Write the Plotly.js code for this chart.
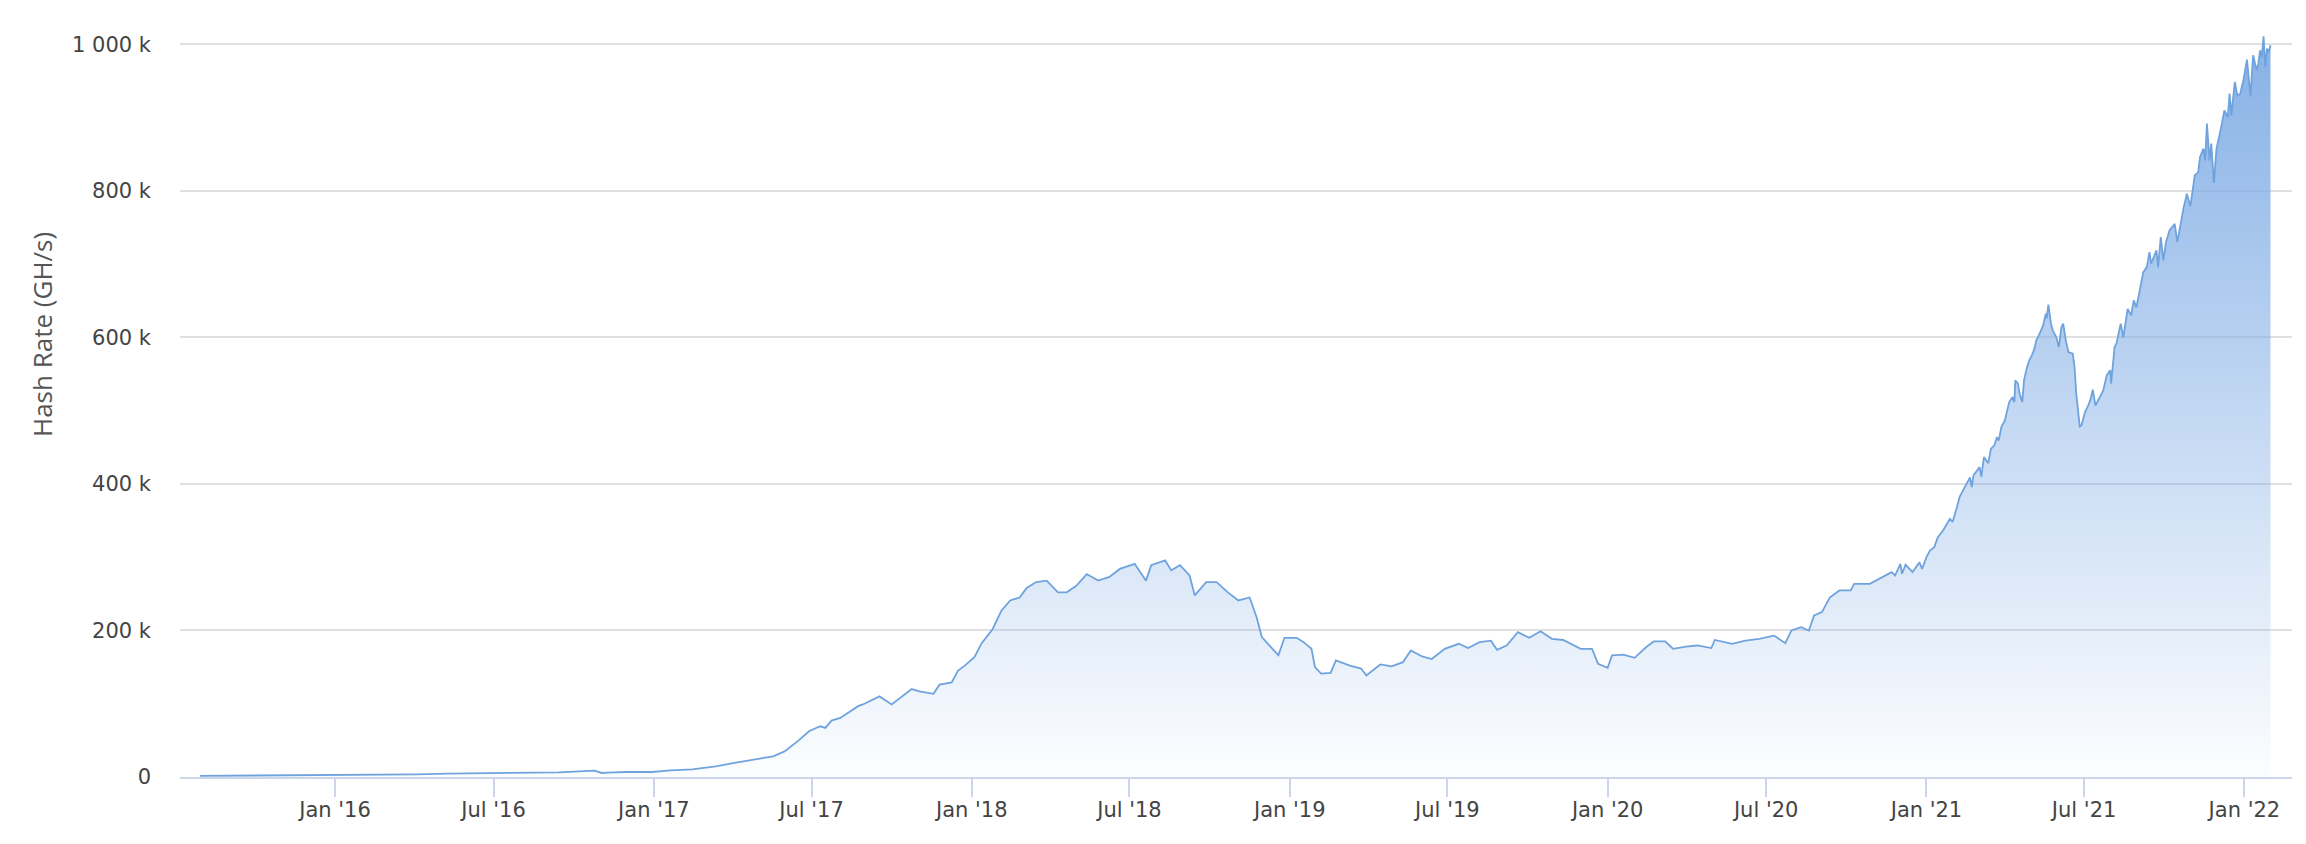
<!DOCTYPE html>
<html>
<head>
<meta charset="utf-8">
<script src="https://cdn.plot.ly/plotly-3.0.1.min.js"></script>
<style>
  html, body { margin: 0; padding: 0; background: #ffffff; }
  #chart { width: 2306px; height: 844px; }
</style>
</head>
<body>
<div id="chart"></div>
<script>
// Dates of readings
const dates = [
  "2015-07-30","2015-11-02","2016-01-02","2016-02-22","2016-04-03","2016-05-09","2016-06-29","2016-08-09",
  "2016-09-14","2016-10-25","2016-11-02","2016-11-09","2016-12-01","2016-12-30","2017-01-20","2017-02-14",
  "2017-03-13","2017-04-02","2017-04-28","2017-05-18","2017-05-31","2017-06-16","2017-06-28","2017-07-11",
  "2017-07-17","2017-07-24","2017-08-03","2017-08-14","2017-08-24","2017-08-29","2017-09-03","2017-09-17",
  "2017-10-01","2017-10-14","2017-10-24","2017-11-02","2017-11-18","2017-11-25","2017-12-09","2017-12-16",
  "2017-12-24","2018-01-04","2018-01-12","2018-01-25","2018-02-04","2018-02-14","2018-02-25","2018-03-05",
  "2018-03-16","2018-03-28","2018-04-10","2018-04-20","2018-05-01","2018-05-13","2018-05-26","2018-06-08",
  "2018-06-20","2018-07-07","2018-07-20","2018-07-26","2018-08-11","2018-08-18","2018-08-28","2018-09-08",
  "2018-09-14","2018-09-27","2018-10-09","2018-10-22","2018-11-03","2018-11-16","2018-11-24","2018-11-30",
  "2018-12-11","2018-12-19","2018-12-26","2019-01-09","2019-01-17","2019-01-26","2019-01-30","2019-02-06",
  "2019-02-17","2019-02-23","2019-03-11","2019-03-24","2019-03-30","2019-04-15","2019-04-28","2019-05-11",
  "2019-05-20","2019-06-02","2019-06-13","2019-06-28","2019-07-14","2019-07-25","2019-08-07","2019-08-20",
  "2019-08-27","2019-09-07","2019-09-20","2019-10-03","2019-10-16","2019-10-29","2019-11-11","2019-11-20",
  "2019-12-01","2019-12-14","2019-12-21","2020-01-01","2020-01-06","2020-01-19","2020-02-01","2020-02-14",
  "2020-02-23","2020-03-07","2020-03-16","2020-03-31","2020-04-13","2020-04-29","2020-05-03","2020-05-23",
  "2020-06-07","2020-06-23","2020-07-10","2020-07-23","2020-07-30","2020-08-10","2020-08-19","2020-08-25",
  "2020-09-03","2020-09-12","2020-09-23","2020-10-06","2020-10-10","2020-10-28","2020-11-08","2020-11-14",
  "2020-11-22","2020-11-26","2020-12-02","2020-12-04","2020-12-08","2020-12-16","2020-12-24","2020-12-27",
  "2021-01-01","2021-01-05","2021-01-10","2021-01-14","2021-01-20","2021-01-28","2021-01-31","2021-02-05",
  "2021-02-08","2021-02-14","2021-02-20","2021-02-22","2021-02-24","2021-03-03","2021-03-05","2021-03-08",
  "2021-03-13","2021-03-16","2021-03-20","2021-03-23","2021-03-25","2021-03-28","2021-04-01","2021-04-06",
  "2021-04-10","2021-04-12","2021-04-13","2021-04-16","2021-04-18","2021-04-21","2021-04-23","2021-04-26",
  "2021-04-29","2021-05-02","2021-05-05","2021-05-07","2021-05-10","2021-05-15","2021-05-18","2021-05-19",
  "2021-05-21","2021-05-24","2021-05-26","2021-05-30","2021-06-02","2021-06-05","2021-06-07","2021-06-10",
  "2021-06-13","2021-06-18","2021-06-20","2021-06-22","2021-06-24","2021-06-26","2021-06-28","2021-07-02",
  "2021-07-05","2021-07-08","2021-07-11","2021-07-14","2021-07-19","2021-07-23","2021-07-27","2021-07-31",
  "2021-08-01","2021-08-05","2021-08-07","2021-08-12","2021-08-15","2021-08-20","2021-08-24","2021-08-27",
  "2021-08-30","2021-09-03","2021-09-07","2021-09-11","2021-09-14","2021-09-16","2021-09-22","2021-09-24",
  "2021-09-27","2021-09-30","2021-10-03","2021-10-07","2021-10-13","2021-10-16","2021-10-19","2021-10-23",
  "2021-10-27","2021-10-31","2021-11-05","2021-11-09","2021-11-11","2021-11-15","2021-11-17","2021-11-19",
  "2021-11-22","2021-11-24","2021-11-27","2021-11-30","2021-12-05","2021-12-09","2021-12-13","2021-12-15",
  "2021-12-17","2021-12-21","2021-12-24","2021-12-27","2021-12-31","2022-01-04","2022-01-08","2022-01-11",
  "2022-01-15","2022-01-17","2022-01-19","2022-01-21","2022-01-23","2022-01-25","2022-01-27","2022-01-29",
  "2022-01-31"
];

// Hash rate, thousands of GH/s
const hashRateK = [
  1.5,2.0,2.5,3.0,3.7,4.6,5.5,5.5,
  6.4,8.7,5.5,6.0,6.8,6.8,9.1,10.5,
  14.6,19.1,23.7,28.2,35,49.6,62.4,69.2,
  67,77,80.6,89,97,99,102,110,
  99,111,120,117,113.6,126,129,145,
  152,163.6,182,202,227,241,245,258,
  266,268,252,252,261,277,268,273,
  284,291,268,289,295.6,282,289,275,
  248,266,266,252,241,245,218,191,
  177,166,190,190,184,175,150,141,
  142,159,152,148,138.6,153.6,151,156.7,
  172.7,164.5,161,175,181.8,176,184,186,
  173.6,179.5,197.7,190,199,188.6,187,181.8,
  175,175,154.5,149,166,167,162.7,177,
  185,185,175,178,179.5,176,187,181.8,
  186,188.6,193,182.7,200,204.5,200,220.5,
  225,245,254.6,254.6,263.7,263.7,270.6,273.7,
  279.6,275,291,277.4,289.7,279.6,293,284,
  300,309,313.7,327,336.5,352.5,348,368.3,
  382,395.6,409,395.6,411.6,423,410,436.6,
  428.4,448,452.6,464,459,477.6,486.7,511.7,
  518.5,511.7,541.3,536.8,523,511.7,541.3,557.3,
  568.6,575.4,584.6,595.9,602.7,616.4,632.3,626,
  644.6,618.7,609.6,600.4,586.8,614,618.7,595.9,
  580,577.7,559.5,523,495.8,478.5,480,498,
  505,514,528.6,507,518.5,527.6,548,555,
  537,586.8,591,618.7,600,639,630,650.5,
  641,664,689,696,716.5,700.6,718.8,696,
  737,705,730,746,755,730,750.6,775.7,
  796,779,821,825.7,846,857.6,841.6,891.7,
  841.6,864.4,810.7,857.6,884.9,909.9,900.8,932.7,
  903,948.5,930.4,932,951.7,979,929,985,
  964.5,973.6,991.8,982.7,1011,969,994,989.5,
  998.6
];

// Axis ticks
const xTickDates = ["2016-01-01","2016-07-01","2017-01-01","2017-07-01","2018-01-01","2018-07-01",
  "2019-01-01","2019-07-01","2020-01-01","2020-07-01","2021-01-01","2021-07-01","2022-01-01"];
const xTickLabels = ["Jan '16","Jul '16","Jan '17","Jul '17","Jan '18","Jul '18",
  "Jan '19","Jul '19","Jan '20","Jul '20","Jan '21","Jul '21","Jan '22"];
const yTickValues = [0, 200, 400, 600, 800, 1000];
const yTickLabels = ["0", "200 k", "400 k", "600 k", "800 k", "1 000 k"];
const yTitle = "Hash Rate (GH/s)";

const trace = {
  type: "scatter",
  mode: "lines",
  x: dates,
  y: hashRateK,
  line: { color: "#6fa3de", width: 1.8 },
  fill: "tozeroy",
  fillgradient: {
    type: "vertical",
    start: 0,
    stop: 1011,
    colorscale: [[0, "rgba(124,170,228,0.02)"], [1, "rgba(124,170,228,0.92)"]]
  },
  hoverinfo: "x+y"
};

const tickFont = { family: "DejaVu Sans, Verdana, sans-serif", size: 21, color: "#444444" };

const layout = {
  width: 2306,
  height: 844,
  margin: { l: 180, r: 14, t: 15, b: 67 },
  paper_bgcolor: "#ffffff",
  plot_bgcolor: "#ffffff",
  showlegend: false,
  xaxis: {
    type: "date",
    range: ["2015-07-07", "2022-02-24 16:00"],
    tickmode: "array",
    tickvals: xTickDates,
    ticktext: xTickLabels,
    ticks: "outside",
    ticklen: 18,
    tickwidth: 2,
    tickcolor: "#ccd6eb",
    showline: true,
    linecolor: "#ccd6eb",
    linewidth: 2,
    showgrid: false,
    zeroline: false,
    ticklabelstandoff: -5,
    tickfont: tickFont
  },
  yaxis: {
    range: [0, 1040],
    tickmode: "array",
    tickvals: yTickValues,
    ticktext: yTickLabels,
    ticks: "",
    showgrid: true,
    gridcolor: "#e0e0e0",
    gridwidth: 2,
    zeroline: false,
    showline: false,
    ticklabelstandoff: 28,
    tickfont: tickFont
  },
  annotations: [{
    text: yTitle,
    xref: "paper", yref: "paper",
    x: (42 - 180) / 2112, y: (777 - 335) / 762,
    xanchor: "center", yanchor: "middle",
    textangle: -90,
    showarrow: false,
    font: { family: "Open Sans, sans-serif", size: 26, color: "#555555" }
  }]
};

Plotly.newPlot("chart", [trace], layout, { displayModeBar: false, staticPlot: true });
</script>
</body>
</html>
